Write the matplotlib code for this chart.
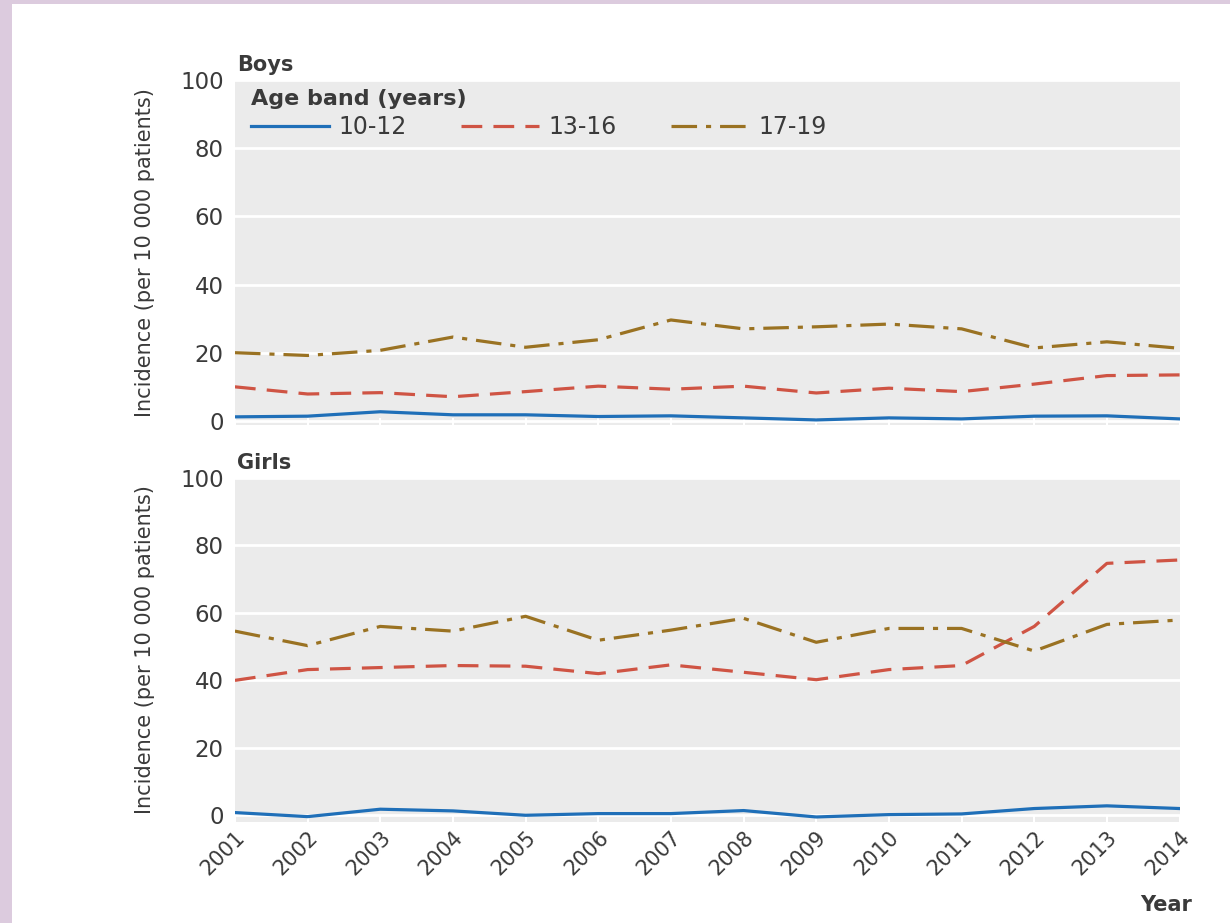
import matplotlib.pyplot as plt
from matplotlib.patches import Rectangle

years = list(range(2001, 2015))
bands = ['10-12', '13-16', '17-19']

# Boys, incidence per 10 000 patients
boys_10_12 = [1.2, 1.4, 2.7, 1.8, 1.8, 1.3, 1.5, 0.9, 0.3, 0.9, 0.6, 1.4, 1.5, 0.6]
boys_13_16 = [10.0, 7.9, 8.3, 7.1, 8.6, 10.2, 9.3, 10.2, 8.2, 9.6, 8.6, 10.8, 13.3, 13.5]
boys_17_19 = [20.0, 19.2, 20.7, 24.6, 21.6, 23.8, 29.6, 27.0, 27.6, 28.4, 27.0, 21.4, 23.2, 21.3]

# Girls
girls_10_12 = [0.8, -0.4, 1.8, 1.3, 0.0, 0.5, 0.5, 1.4, -0.5, 0.2, 0.4, 2.0, 2.8, 2.0]
girls_13_16 = [40.0, 43.2, 43.8, 44.4, 44.2, 42.0, 44.6, 42.4, 40.2, 43.2, 44.4, 56.0, 74.7, 75.7]
girls_17_19 = [54.6, 50.3, 56.0, 54.6, 59.0, 51.9, 54.9, 58.4, 51.3, 55.4, 55.4, 48.7, 56.6, 57.9]

colors = ['#1f6fb8', '#cf5444', '#9a7222']
styles = ['-', (0, (6.5, 3.5)), (0, (8, 2.8, 1.6, 2.8))]
txt = '#3a3a3a'

fig = plt.figure(figsize=(12.3, 9.23), dpi=100)
fig.patch.set_facecolor('#dccbde')
fig.patches.append(Rectangle((12 / 1230, 0), 1, 1 - 4 / 923, transform=fig.transFigure,
                             facecolor='white', edgecolor='none', zorder=-5))

ax1 = fig.add_axes([0.191, 0.5395, 0.768, 0.374])
ax2 = fig.add_axes([0.191, 0.1094, 0.768, 0.3727])

def draw_panel(ax, data, title, ymin):
    ax.set_facecolor('#ebebeb')
    for vals, c, ls, lab in zip(data, colors, styles, bands):
        ax.plot(years, vals, color=c, linestyle=ls, linewidth=2.3, label=lab)
    ax.set_xlim(2001, 2014)
    ax.set_ylim(ymin, 100)
    ax.set_yticks([0, 20, 40, 60, 80, 100])
    ax.set_xticks(years)
    ax.grid(axis='y', color='white', linewidth=2)
    ax.set_axisbelow(True)
    for s in ax.spines.values():
        s.set_visible(False)
    ax.tick_params(axis='y', length=0, pad=8, labelsize=16.5, labelcolor=txt)
    ax.tick_params(axis='x', direction='in', color='white', length=5, width=1.5,
                   labelsize=15, labelcolor=txt)
    ax.set_ylabel('Incidence (per 10 000 patients)', fontsize=15, color=txt,
                  labelpad=18)
    ax.text(0.002, 1.015, title, transform=ax.transAxes, fontsize=15,
            fontweight='bold', color=txt, va='bottom', ha='left')

draw_panel(ax1, [boys_10_12, boys_13_16, boys_17_19], 'Boys', -1.2)
draw_panel(ax2, [girls_10_12, girls_13_16, girls_17_19], 'Girls', -2.0)

ax1.set_xticklabels([])
ax2.set_xticklabels([str(y) for y in years], rotation=45, ha='right',
                    rotation_mode='anchor')

leg = ax1.legend(loc='upper left', bbox_to_anchor=(0.0, 1.02), ncol=3,
                 frameon=False, fontsize=17, title='Age band (years)',
                 handlelength=3.3, columnspacing=2.3, handletextpad=0.4,
                 borderaxespad=0.3, labelcolor=txt)
leg.get_title().set_fontweight('bold')
leg.get_title().set_fontsize(16)
leg.get_title().set_color(txt)
leg._legend_box.align = 'left'
leg._legend_box.sep = 4

fig.text(1192 / 1230, 1 - 905 / 923, 'Year', fontsize=15, fontweight='bold',
         color=txt, ha='right', va='center')

fig.savefig('out.png', dpi=100)
